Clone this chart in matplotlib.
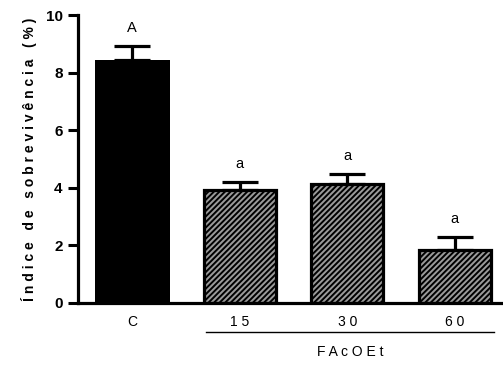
import matplotlib
matplotlib.use("Agg")
import matplotlib.pyplot as plt

plt.rcParams['font.family'] = ['Liberation Sans', 'DejaVu Sans']
plt.rcParams['hatch.linewidth'] = 1.4

# Survival index per treatment (mean and SEM)
groups = ['C', '15', '30', '60']
means = [8.45, 3.93, 4.13, 1.84]
sems = [0.47, 0.27, 0.35, 0.45]
letters = ['A', 'a', 'a', 'a']
group_title = 'FAcOEt'
ylabel = 'Índice de sobrevivência (%)'
yticks = [0, 2, 4, 6, 8, 10]


def spaced(s, word_gap=3):
    words = s.split(' ')
    return (' ' * word_gap).join(' '.join(w) for w in words)


fig = plt.figure(figsize=(5.03, 3.65), dpi=100)
ax = fig.add_axes([0.155, 0.170, 0.845, 0.788])

x = list(range(len(groups)))
for i in x:
    if i == 0:
        ax.bar(i, means[i], width=0.70, color='black', edgecolor='black',
               linewidth=0, zorder=2)
    else:
        ax.bar(i, means[i], width=0.67, color='#9a9a9a', edgecolor='black',
               linewidth=2.3, hatch='//////', zorder=2)
    ax.errorbar(i, means[i], yerr=[[0], [sems[i]]], fmt='none', ecolor='black',
                elinewidth=2.3, capsize=13, capthick=2.3, zorder=1)
    ax.annotate(letters[i], (i, means[i] + sems[i]), textcoords='offset points',
                xytext=(0, 8), ha='center', va='bottom', fontsize=10.5)

ax.set_xlim(-0.506, 3.45)
ax.set_ylim(0, 10)
ax.set_yticks(yticks)
ax.set_yticklabels([str(t) for t in yticks], fontweight='bold', fontsize=11)
ax.set_xticks(x)
ax.set_xticklabels([spaced(g) for g in groups], fontsize=10)
ax.tick_params(axis='x', length=0, pad=9)
ax.tick_params(axis='y', length=7, width=2.2, pad=4)

for side in ['top', 'right']:
    ax.spines[side].set_visible(False)
for side in ['left', 'bottom']:
    ax.spines[side].set_linewidth(2.3)

ax.set_ylabel(spaced(ylabel, 3), fontweight='bold', fontsize=10, labelpad=6)

# group bracket under the treated doses
trans = ax.get_xaxis_transform()
ax.plot([0.69, 3.37], [-0.101, -0.101], color='black', linewidth=1.0,
        transform=trans, clip_on=False)
ax.text(2.03, -0.17, spaced(group_title), transform=trans, ha='center',
        va='center', fontsize=10)

fig.savefig('out.png', dpi=100)
